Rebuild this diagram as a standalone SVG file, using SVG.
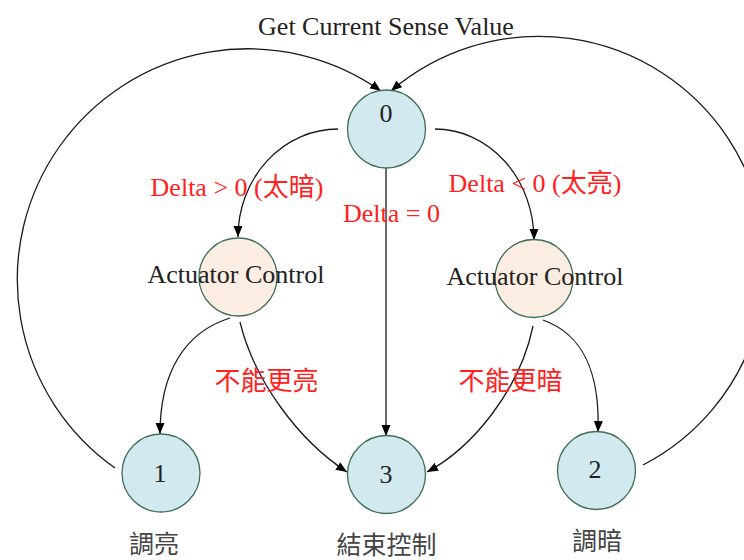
<svg xmlns="http://www.w3.org/2000/svg" width="744" height="560" viewBox="0 0 744 560">
  <defs>
    <marker id="arrow" markerUnits="userSpaceOnUse" markerWidth="12" markerHeight="10" refX="11" refY="4.5" orient="auto">
      <path d="M0,0 L11,4.5 L0,9 Z" fill="#000"/>
    </marker>
    <style>
      .state { fill: #d2e9ef; stroke: #3f6e58; stroke-width: 1.3; }
      .act { fill: #fcede2; stroke: #3f6e58; stroke-width: 1.3; }
      .edge { fill: none; stroke: #1a1a1a; stroke-width: 1.3; }
      .arr { marker-end: url(#arrow); }
      text { font-family: "Liberation Serif", "Noto Sans CJK TC", serif; font-size: 26px; text-anchor: middle; }
      .num { fill: #222; }
      .lbl { fill: #222; }
      .cond { fill: #ff2020; }
      .cap { fill: #444; font-family: "Noto Sans CJK TC", sans-serif; font-size: 25px; }
    </style>
  </defs>
  <rect width="744" height="560" fill="#fff"/>

  <!-- connectors -->
  <g id="connectors">
    <!-- feedback loops back to state 0 -->
    <path class="edge arr" d="M115,468 A228,228 0 1 1 381,91"/>
    <path class="edge arr" d="M643,465 A227,227 0 1 0 391,91"/>
    <!-- state 0 to actuators -->
    <path class="edge arr" d="M338,129 A100,108 0 0 0 238,237"/>
    <path class="edge arr" d="M435,129 A99,111 0 0 1 534,240"/>
    <!-- state 0 straight to state 3 -->
    <path class="edge arr" d="M386,168 L386,436"/>
    <!-- left actuator outputs -->
    <path class="edge arr" d="M230,318 C185,332 160,372 160,434"/>
    <path class="edge arr" d="M240,322 C254,380 298,440 347,472"/>
    <!-- right actuator outputs -->
    <path class="edge arr" d="M533,326 C520,390 472,448 427,472"/>
    <path class="edge arr" d="M543,320 C585,335 600,375 598,432"/>
  </g>

  <text class="lbl" x="386" y="35">Get Current Sense Value</text>

  <g id="node-0">
    <circle class="state" cx="386.5" cy="129" r="39"/>
    <text class="num" x="386" y="122">0</text>
  </g>

  <g id="node-act-left">
    <circle class="act" cx="238" cy="277" r="39"/>
    <text class="lbl" x="236" y="283">Actuator Control</text>
  </g>

  <g id="node-act-right">
    <circle class="act" cx="534" cy="278.5" r="39"/>
    <text class="lbl" x="535" y="285">Actuator Control</text>
  </g>

  <g id="node-1">
    <circle class="state" cx="161" cy="473" r="39"/>
    <text class="num" x="160" y="482">1</text>
    <text class="cap" x="154" y="553">調亮</text>
  </g>

  <g id="node-3">
    <circle class="state" cx="386.5" cy="474.5" r="39"/>
    <text class="num" x="386" y="483">3</text>
    <text class="cap" x="386.5" y="554">結束控制</text>
  </g>

  <g id="node-2">
    <circle class="state" cx="596.5" cy="470.5" r="39"/>
    <text class="num" x="595" y="478">2</text>
    <text class="cap" x="597" y="550">調暗</text>
  </g>

  <!-- transition conditions -->
  <g id="labels">
    <text class="cond" x="237" y="196">Delta &gt; 0 (太暗)</text>
    <text class="cond" x="535" y="192">Delta &lt; 0 (太亮)</text>
    <text class="cond" x="391.5" y="222">Delta = 0</text>
    <text class="cond" x="266.5" y="390">不能更亮</text>
    <text class="cond" x="510.5" y="390">不能更暗</text>
  </g>
</svg>
